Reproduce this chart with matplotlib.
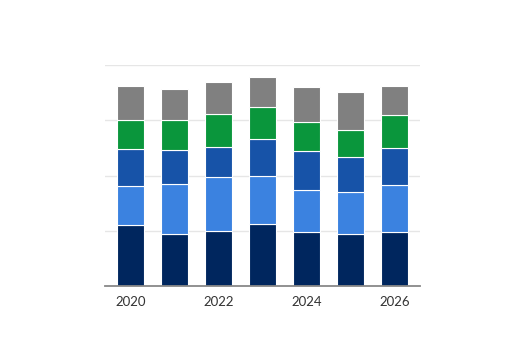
import matplotlib
matplotlib.use('Agg')
import matplotlib.pyplot as plt
import numpy as np

years = [2020, 2021, 2022, 2023, 2024, 2025, 2026]
tick_labels = ['2020', '', '2022', '', '2024', '', '2026']

# segmenti dal basso verso l'alto
seg1 = [27.4, 23.5, 24.7, 28.0, 24.4, 23.5, 24.3]
seg2 = [17.8, 22.7, 24.6, 21.8, 19.0, 19.1, 21.5]
seg3 = [16.7, 15.2, 13.5, 16.5, 17.6, 15.7, 16.6]
seg4 = [13.1, 13.9, 15.1, 14.6, 13.2, 12.5, 15.0]
seg5 = [15.6, 13.9, 14.6, 13.7, 15.9, 17.2, 12.9]

series = [seg1, seg2, seg3, seg4, seg5]
colors = ['#00265e', '#3b82e0', '#1753a8', '#0a963c', '#808080']

plt.rcParams['font.family'] = ['Lato', 'DejaVu Sans']

fig = plt.figure(figsize=(5.25, 3.6), dpi=100)
ax = fig.add_axes([105 / 525, (360 - 286) / 360, 315 / 525, 221 / 360])

x = np.arange(len(years))
bottom = np.zeros(len(years))
for vals, c in zip(series, colors):
    ax.bar(x, vals, width=0.62, bottom=bottom, color=c,
           edgecolor='white', linewidth=0.8, zorder=3)
    bottom += np.array(vals)

ax.set_xlim(-0.575, 6.575)
ax.set_ylim(0, 100)
ax.set_yticks([25, 50, 75, 100])
ax.yaxis.grid(True, color='#e6e6e6', linewidth=1, zorder=0)
ax.tick_params(axis='y', left=False, labelleft=False)
ax.set_xticks(x)
ax.set_xticklabels(tick_labels, fontsize=9.5, color='#333333')
ax.tick_params(axis='x', length=0, pad=7)

for s in ['top', 'right', 'left']:
    ax.spines[s].set_visible(False)
ax.spines['bottom'].set_color('#888888')
ax.spines['bottom'].set_linewidth(1.3)
ax.spines['bottom'].set_zorder(4)

fig.savefig('out.png', dpi=100)
